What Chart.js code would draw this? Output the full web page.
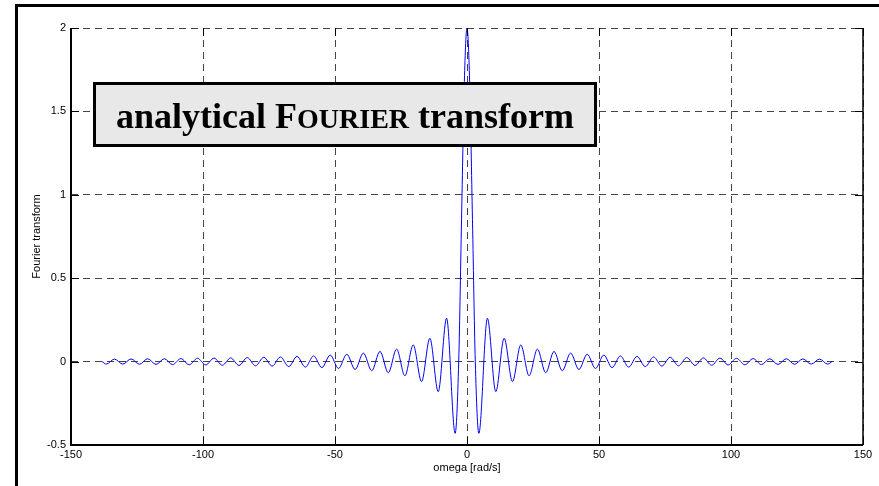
<!DOCTYPE html>
<html>
<head>
<meta charset="utf-8">
<script src="https://cdn.jsdelivr.net/npm/chart.js@4.4.1/dist/chart.umd.min.js"></script>
<style>
  body { margin: 0; background: #fff; }
  #wrap { width: 879px; height: 486px; }
</style>
</head>
<body>
<div id="wrap"><canvas id="fourierChart" width="879" height="486"></canvas></div>
<script>
// omega [rad/s]: end points, main lobe and the extremes of every side lobe
const omega = [
  -138.23, -136.65, -133.51, -130.37, -127.23, -124.08, -120.94, -117.80, -114.66, -111.52,
  -108.38, -105.23, -102.09, -98.95, -95.81, -92.67, -89.52, -86.38, -83.24, -80.10,
  -76.96, -73.81, -70.67, -67.53, -64.39, -61.24, -58.10, -54.96, -51.82, -48.67,
  -45.53, -42.39, -39.24, -36.10, -32.96, -29.81, -26.67, -23.52, -20.37, -17.22,
  -14.07, -10.90, -7.73, -4.49, -3.14, -2, -1, 0, 1, 2, 3.14,
  4.49, 7.73, 10.90, 14.07, 17.22, 20.37, 23.52, 26.67, 29.81, 32.96,
  36.10, 39.24, 42.39, 45.53, 48.67, 51.82, 54.96, 58.10, 61.24, 64.39,
  67.53, 70.67, 73.81, 76.96, 80.10, 83.24, 86.38, 89.52, 92.67, 95.81,
  98.95, 102.09, 105.23, 108.38, 111.52, 114.66, 117.80, 120.94, 124.08, 127.23,
  130.37, 133.51, 136.65, 138.23
];
const fourier = [
  0, -0.015, 0.015, -0.015, 0.016, -0.016, 0.017, -0.017, 0.017, -0.018,
  0.018, -0.019, 0.020, -0.020, 0.021, -0.022, 0.022, -0.023, 0.024, -0.025,
  0.026, -0.027, 0.028, -0.030, 0.031, -0.033, 0.034, -0.036, 0.039, -0.041,
  0.044, -0.047, 0.051, -0.055, 0.061, -0.067, 0.075, -0.085, 0.10, -0.12,
  0.14, -0.18, 0.26, -0.43, 0, 0.91, 1.68, 2, 1.68, 0.91, 0,
  -0.43, 0.26, -0.18, 0.14, -0.12, 0.10, -0.085, 0.075, -0.067, 0.061,
  -0.055, 0.051, -0.047, 0.044, -0.041, 0.039, -0.036, 0.034, -0.033, 0.031,
  -0.030, 0.028, -0.027, 0.026, -0.025, 0.024, -0.023, 0.022, -0.022, 0.021,
  -0.020, 0.020, -0.019, 0.018, -0.018, 0.017, -0.017, 0.017, -0.016, 0.016,
  -0.015, 0.015, -0.015, 0
];
const xTicks = [-150, -100, -50, 0, 50, 100, 150];
const yTicks = [-0.5, 0, 0.5, 1, 1.5, 2];

const labelFont = { family: 'Liberation Sans', size: 11 };

// matlab style axes: solid box, inward ticks, framed title and outer border
const matlabAxes = {
  id: 'matlabAxes',
  afterDatasetsDraw(chart) {
    const { ctx, chartArea: { left, right, top, bottom }, scales: { x, y } } = chart;
    ctx.save();
    ctx.strokeStyle = '#000';
    ctx.lineWidth = 1;
    ctx.beginPath();
    xTicks.forEach(v => {
      const px = Math.round(x.getPixelForValue(v)) + 0.5;
      ctx.moveTo(px, bottom); ctx.lineTo(px, bottom - 8);
      ctx.moveTo(px, top); ctx.lineTo(px, top + 8);
    });
    yTicks.forEach(v => {
      const py = Math.round(y.getPixelForValue(v)) + 0.5;
      ctx.moveTo(left, py); ctx.lineTo(left + 8, py);
      ctx.moveTo(right, py); ctx.lineTo(right - 8, py);
    });
    ctx.stroke();

    ctx.lineWidth = 2;
    ctx.beginPath();
    ctx.moveTo(left, top);
    ctx.lineTo(left, bottom);
    ctx.lineTo(right, bottom);
    ctx.stroke();
    ctx.lineWidth = 1.5;
    ctx.beginPath();
    ctx.moveTo(right, top);
    ctx.lineTo(right, bottom);
    ctx.stroke();

    // title box
    const bx = 93, by = 82, bw = 504, bh = 65;
    ctx.fillStyle = '#e8e8e8';
    ctx.fillRect(bx, by, bw, bh);
    ctx.lineWidth = 3;
    ctx.strokeRect(bx + 1.5, by + 1.5, bw - 3, bh - 3);

    const big = 'bold 36px "Liberation Serif"';
    const small = 'bold 28px "Liberation Serif"';
    const parts = [
      ['analytical ', big], ['F', big], ['OURIER', small], [' transform', big]
    ];
    let total = 0;
    parts.forEach(p => { ctx.font = p[1]; total += ctx.measureText(p[0]).width; });
    let tx = bx + bw / 2 - total / 2;
    ctx.fillStyle = '#000';
    ctx.textBaseline = 'alphabetic';
    ctx.textAlign = 'left';
    parts.forEach(p => {
      ctx.font = p[1];
      ctx.fillText(p[0], tx, 128);
      tx += ctx.measureText(p[0]).width;
    });
    ctx.restore();
  },
  afterDraw(chart) {
    const { ctx } = chart;
    ctx.save();
    ctx.strokeStyle = '#000';
    ctx.lineWidth = 3;
    ctx.strokeRect(16.5, 5.5, 900, 600);
    ctx.restore();
  }
};

const ctx = document.getElementById('fourierChart').getContext('2d');
const chart = new Chart(ctx, {
  type: 'line',
  data: {
    datasets: [{
      data: omega.map((w, i) => ({ x: w, y: fourier[i] })),
      borderColor: '#0000ff',
      borderWidth: 1,
      pointRadius: 0,
      fill: false,
      tension: 0.4,
      cubicInterpolationMode: 'monotone'
    }]
  },
  options: {
    responsive: false,
    animation: false,
    devicePixelRatio: 1,
    layout: { padding: { top: 28, right: 16, left: 0, bottom: 0 } },
    plugins: { legend: { display: false }, tooltip: { enabled: false } },
    scales: {
      x: {
        type: 'linear',
        min: -150,
        max: 150,
        afterBuildTicks: s => { s.ticks = xTicks.map(v => ({ value: v })); },
        afterFit: s => { s.height = 41; },
        grid: { color: '#444', lineWidth: 1, drawTicks: false },
        border: { display: false, dash: [7, 5] },
        ticks: { color: '#000', font: labelFont, padding: 3, maxRotation: 0, autoSkip: false,
                 callback: v => String(v) },
        title: { display: true, text: 'omega [rad/s]', color: '#000', font: labelFont,
                 padding: { top: 0, bottom: 11 } }
      },
      y: {
        type: 'linear',
        min: -0.5,
        max: 2,
        afterBuildTicks: s => { s.ticks = yTicks.map(v => ({ value: v })); },
        afterFit: s => { s.width = 71; },
        grid: { color: '#444', lineWidth: 1, drawTicks: false },
        border: { display: false, dash: [7, 5] },
        ticks: { color: '#000', font: labelFont, padding: 5, autoSkip: false,
                 callback: v => String(v) },
        title: { display: true, text: 'Fourier transform', color: '#000', font: labelFont,
                 padding: { top: 30, bottom: 0 } }
      }
    }
  },
  plugins: [matlabAxes]
});
</script>
</body>
</html>
